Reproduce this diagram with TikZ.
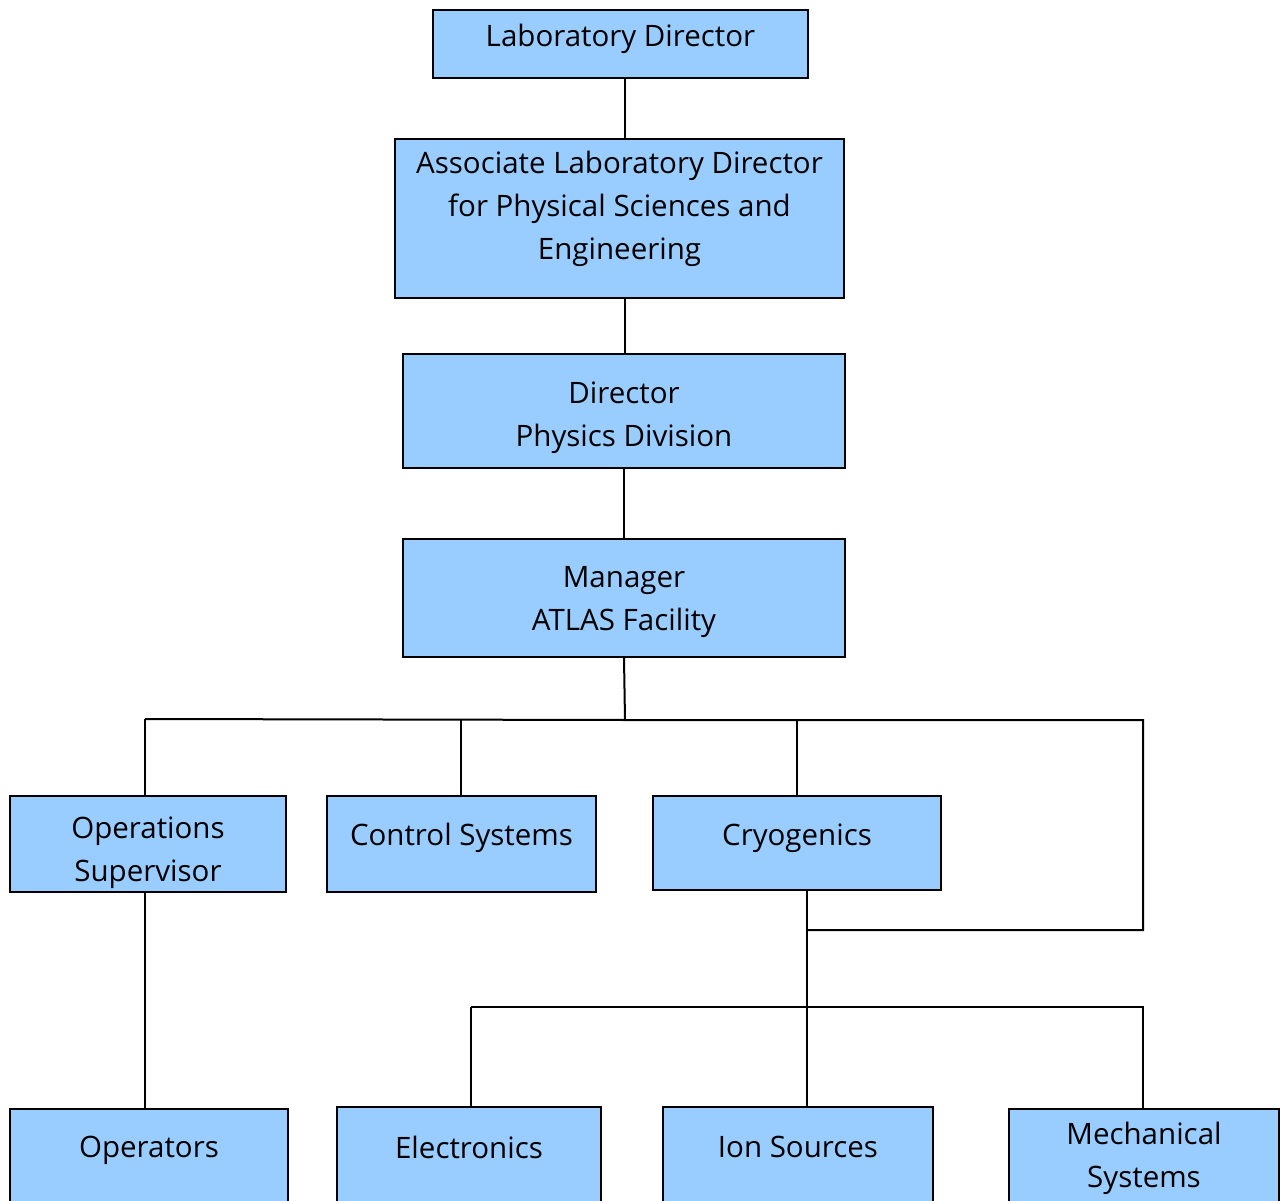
\documentclass[tikz,border=0pt]{standalone}
\usepackage{fontspec}
\setmainfont{Open Sans}
\definecolor{boxblue}{HTML}{99CCFF}
\tikzset{
  box/.style={draw=black, fill=boxblue, line width=2pt, rectangle, inner sep=0pt},
  lbl/.style={align=center, inner sep=0pt, font=\fontsize{29.5pt}{43pt}\selectfont, text=black},
  conn/.style={draw=black, line width=2pt}
}
\begin{document}
\begin{tikzpicture}[x=1pt,y=-1pt]
\useasboundingbox (0,0) rectangle (1283,1201);
\clip (0,0) rectangle (1283,1201);
\fill[white] (0,0) rectangle (1283,1201);
% boxes
\node[box, minimum width=375pt, minimum height=68pt] (ld) at (620.5,44) {};
\node[lbl] (ldt) at (620.5,39) {Laboratory Director};
\node[box, minimum width=449pt, minimum height=159pt] (ald) at (619.5,218.5) {};
\node[lbl] (aldt) at (619.5,209) {Associate Laboratory Director\\for Physical Sciences and\\Engineering};
\node[box, minimum width=442pt, minimum height=114pt] (dpd) at (624,411) {};
\node[lbl] (dpdt) at (624,418) {Director\\Physics Division};
\node[box, minimum width=442pt, minimum height=118pt] (mgr) at (624,598) {};
\node[lbl] (mgrt) at (624,602) {Manager\\ATLAS Facility};
\node[box, minimum width=276pt, minimum height=96pt] (ops) at (148,844) {};
\node[lbl] (opst) at (148,853) {Operations\\Supervisor};
\node[box, minimum width=269pt, minimum height=96pt] (ctl) at (461.5,844) {};
\node[lbl] (ctlt) at (461.5,838) {Control Systems};
\node[box, minimum width=288pt, minimum height=94pt] (cry) at (797,843) {};
\node[lbl] (cryt) at (797,838) {Cryogenics};
\node[box, minimum width=278pt, minimum height=130pt] (opr) at (149,1174) {};
\node[lbl] (oprt) at (149,1150) {Operators};
\node[box, minimum width=264pt, minimum height=130pt] (ele) at (469,1172) {};
\node[lbl] (elet) at (469,1147) {Electronics};
\node[box, minimum width=270pt, minimum height=130pt] (ion) at (798,1172) {};
\node[lbl] (iont) at (798,1147) {Ion Sources};
\node[box, minimum width=270pt, minimum height=130pt] (mech) at (1144,1174) {};
\node[lbl] (mecht) at (1144,1158) {Mechanical\\Systems};
% bus coordinates
\coordinate (vx) at (625,0);
\coordinate (vx2) at (624,0);
\coordinate (b0) at (625,720);
\coordinate (bl) at (145,719);
\coordinate (br) at (1143,720);
\coordinate (j1) at (1143,930);
\coordinate (j2) at (807,930);
\coordinate (c1) at (807,1007);
\coordinate (bl2) at (471,1007);
\coordinate (br2) at (1143,1007);
\coordinate (cj) at (461,719.5);
\coordinate (yj) at (797,720);
% connectors
\draw[conn] (ld.south -| vx) -- (ald.north -| vx);
\draw[conn] (ald.south -| vx) -- (dpd.north -| vx);
\draw[conn] (dpd.south -| vx2) -- (mgr.north -| vx2);
\draw[conn] (mgr.south -| vx2) -- (b0);
\draw[conn] (bl) -- (b0) -- (br) -- (j1) -- (j2);
\draw[conn] (bl) -- (ops.north -| bl);
\draw[conn] (cj) -- (ctl.north -| cj);
\draw[conn] (yj) -- (yj |- cry.north);
\draw[conn] (cry.south -| c1) -- (ion.north -| c1);
\draw[conn] (bl2) -- (br2) -- (mech.north -| br2);
\draw[conn] (bl2) -- (ele.north -| bl2);
\draw[conn] (ops.south -| bl) -- (opr.north -| bl);
\end{tikzpicture}
\end{document}
